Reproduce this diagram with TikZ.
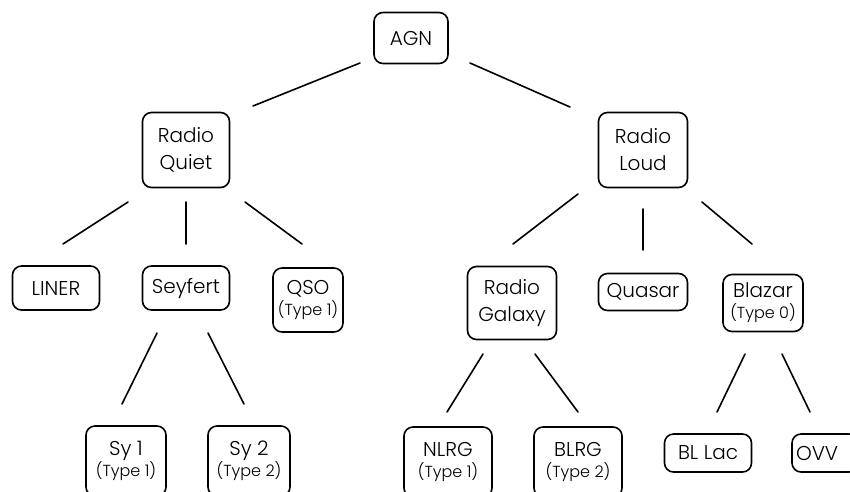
\documentclass[tikz,border=0pt]{standalone}
\usepackage{fontspec}
\setmainfont{Poppins Light}
\newcommand{\subl}[1]{{\fontsize{16}{16}\selectfont #1}}
\begin{document}
\begin{tikzpicture}[x=1pt,y=-1pt,
  box/.style={draw, line width=1.6pt, rounded corners=9pt, align=center, inner sep=0pt,
    font=\fontsize{20}{27}\selectfont},
  link/.style={line width=1.6pt, line cap=round}]
\useasboundingbox (0,0) rectangle (850,491);
% level 0
\node[box, minimum width=74pt, minimum height=51pt] (agn) at (411,38) {AGN};
% level 1
\node[box, minimum width=87pt, minimum height=75pt] (rq) at (186,150) {Radio\\Quiet};
\node[box, minimum width=89pt, minimum height=75pt] (rl) at (643,150) {Radio\\Loud};
% level 2
\node[box, minimum width=87pt, minimum height=44pt] (liner) at (56,288) {LINER};
\node[box, minimum width=87pt, minimum height=44pt] (sey) at (186,288) {Seyfert};
\node[box, minimum width=70pt, minimum height=64pt] (qso) at (308,300) {QSO\\[-6pt]\subl{(Type 1)}};
\node[box, minimum width=89pt, minimum height=73pt] (rg) at (512,303) {Radio\\Galaxy};
\node[box, minimum width=89pt, minimum height=37pt] (quasar) at (643,292) {Quasar};
\node[box, minimum width=80pt, minimum height=57pt] (blazar) at (763,303) {Blazar\\[-6pt]\subl{(Type 0)}};
% level 3
\node[box, minimum width=80pt, minimum height=70pt] (sy1) at (126,461) {Sy 1\\[-6pt]\subl{(Type 1)}};
\node[box, minimum width=82pt, minimum height=70pt] (sy2) at (249,461) {Sy 2\\[-6pt]\subl{(Type 2)}};
\node[box, minimum width=88pt, minimum height=70pt] (nlrg) at (448,462) {NLRG\\[-6pt]\subl{(Type 1)}};
\node[box, minimum width=88pt, minimum height=70pt] (blrg) at (578,462) {BLRG\\[-6pt]\subl{(Type 2)}};
\node[box, minimum width=87pt, minimum height=38pt] (bllac) at (708,453) {BL Lac};
\node[box, minimum width=66pt, minimum height=38pt, text width=58pt, align=left] (ovv) at (825,453) {OVV};
% connector end points
\coordinate (a1) at (360,63);  \coordinate (b1) at (253,106);
\coordinate (a2) at (470,63);  \coordinate (b2) at (570,107);
\coordinate (a3) at (128,202); \coordinate (b3) at (63,244);
\coordinate (a4) at (186,202); \coordinate (b4) at (186,244);
\coordinate (a5) at (245,202); \coordinate (b5) at (302,244);
\coordinate (a6) at (578,194); \coordinate (b6) at (513,244);
\coordinate (a7) at (643,209); \coordinate (b7) at (643,250);
\coordinate (a8) at (702,202); \coordinate (b8) at (752,244);
\coordinate (a9) at (157,333); \coordinate (b9) at (122,404);
\coordinate (a10) at (208,333); \coordinate (b10) at (244,404);
\coordinate (a11) at (483,354); \coordinate (b11) at (447,412);
\coordinate (a12) at (535,354); \coordinate (b12) at (578,412);
\coordinate (a13) at (745,354); \coordinate (b13) at (717,412);
\coordinate (a14) at (782,354); \coordinate (b14) at (810,412);
\foreach \i in {1,...,14} \draw[link] (a\i) -- (b\i);
\end{tikzpicture}
\end{document}
